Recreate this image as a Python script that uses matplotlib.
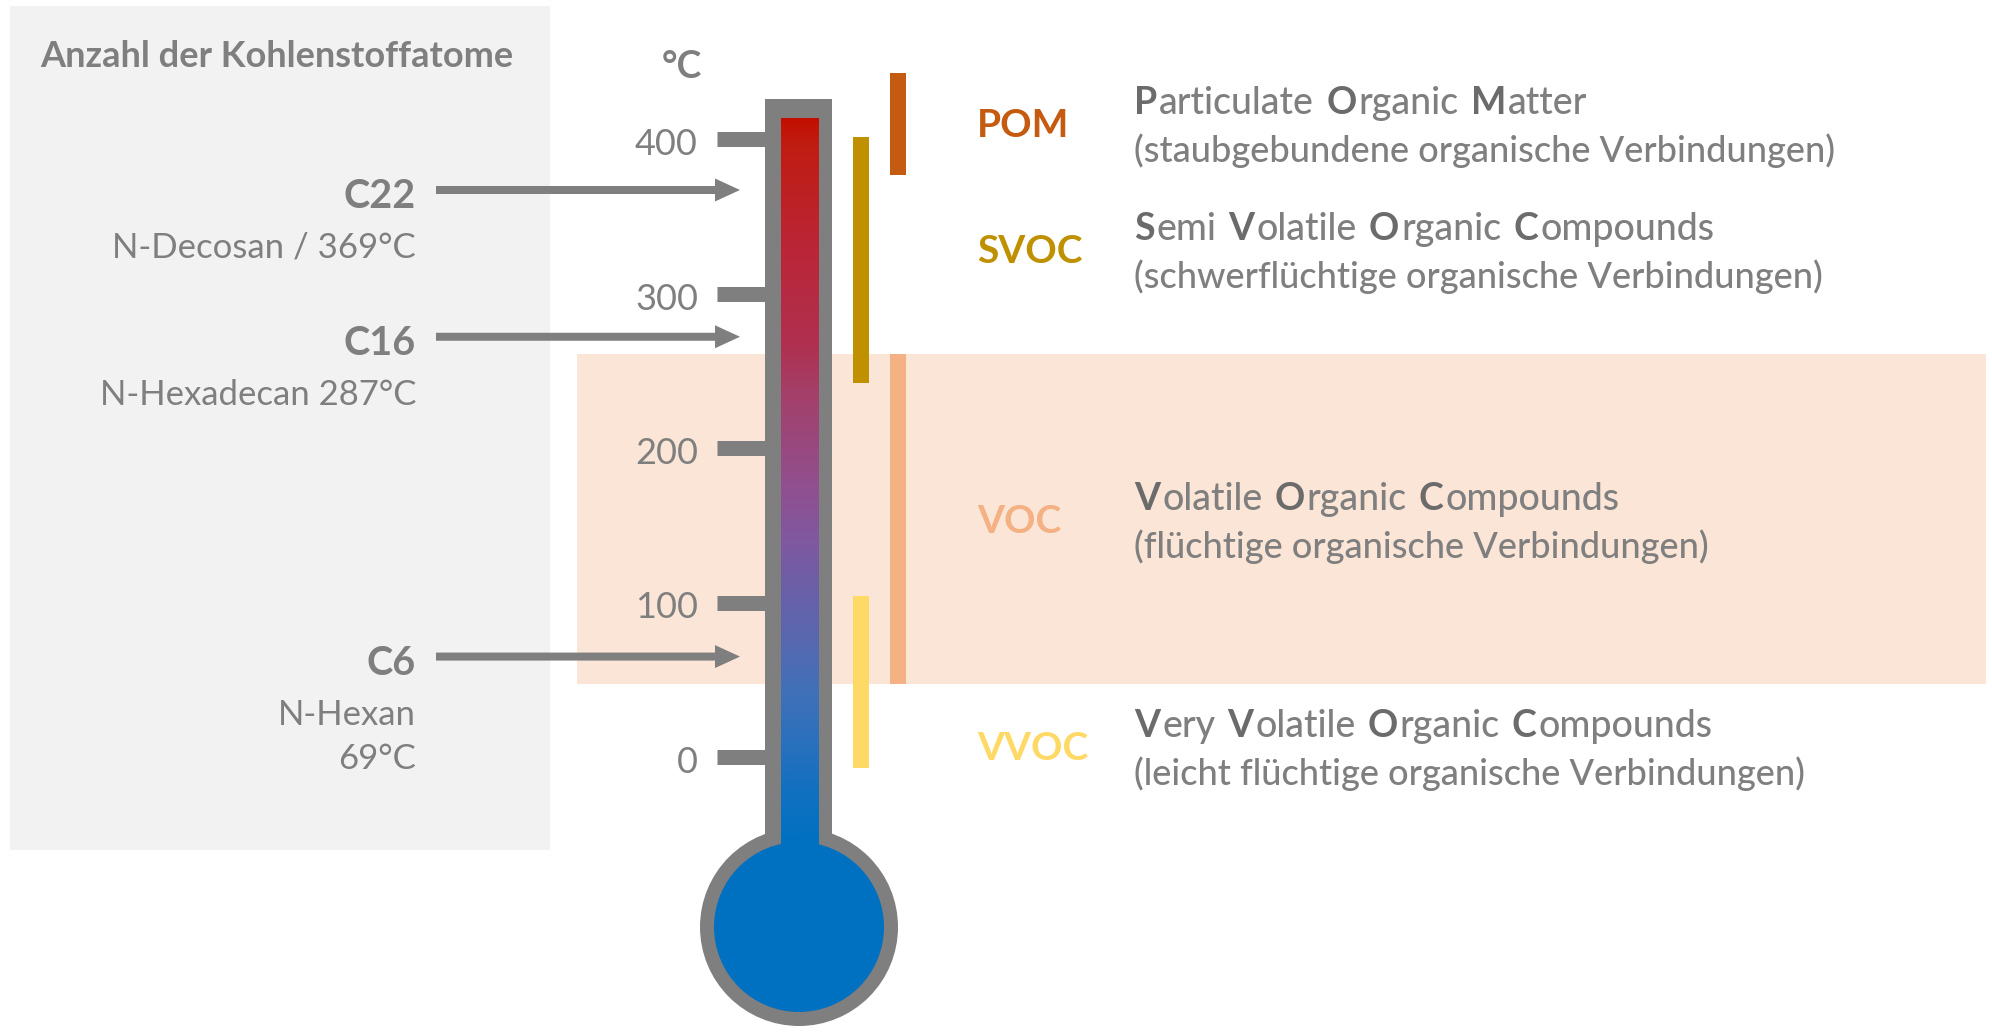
import matplotlib
matplotlib.use("Agg")
import matplotlib.pyplot as plt
import numpy as np
from matplotlib.patches import Rectangle, Ellipse
from matplotlib.colors import LinearSegmentedColormap

# --- data ---------------------------------------------------------------
tick_temps = [0, 100, 200, 300, 400]

classes = ["POM", "SVOC", "VOC", "VVOC"]
class_low = [377, 242, 47, -7]      # lower end of range bar (°C)
class_high = [443, 401, 261, 104]   # upper end of range bar (°C)
class_colors = ["#c55a11", "#bf9000", "#f4b183", "#ffd966"]
class_names = [
    "Particulate Organic Matter",
    "Semi Volatile Organic Compounds",
    "Volatile Organic Compounds",
    "Very Volatile Organic Compounds",
]
class_german = [
    "(staubgebundene organische Verbindungen)",
    "(schwerflüchtige organische Verbindungen)",
    "(flüchtige organische Verbindungen)",
    "(leicht flüchtige organische Verbindungen)",
]

compounds = ["C22", "C16", "C6"]
compound_notes = ["N-Decosan / 369°C", "N-Hexadecan 287°C", "N-Hexan\n69°C"]
arrow_temps = [367, 272, 65]

# --- layout (pixel grid of a 1992x1032 picture) -------------------------
W, H = 1992, 1032
Y0_PX = 757          # pixel row of 0 °C
PX_PER_DEG = 1.545   # pixels per °C


def t_of(px):
    # pixel row -> temperature
    return (Y0_PX - px) / PX_PER_DEG


GRAY = "#7f7f7f"
TEXT_GRAY = "#7f7f7f"
BOLD_GRAY = "#6b6b6b"
BLUE = "#0070c0"

plt.rcParams['font.family'] = ['Lato', 'DejaVu Sans']

fig = plt.figure(figsize=(W / 100, H / 100), dpi=100)
ax = fig.add_axes([0, 0, 1, 1])
ax.set_axis_off()

# background panels
ax.add_patch(Rectangle((10, t_of(850)), 540, t_of(6) - t_of(850),
                       color="#f2f2f2", lw=0, zorder=0))
voc = classes.index("VOC")
ax.axhspan(class_low[voc], class_high[voc], xmin=577 / W, xmax=1986 / W,
           color="#fbe5d6", lw=0, zorder=0.5)

# thermometer
ax.add_patch(Rectangle((765, t_of(925)), 67, t_of(99) - t_of(925),
                       color=GRAY, lw=0, zorder=3))
ax.add_patch(Ellipse((799, t_of(927)), 198, 198 / PX_PER_DEG,
                     color=GRAY, lw=0, zorder=3))
tube_cmap = LinearSegmentedColormap.from_list("tube", [
    (0.00, "#c20f00"), (0.03, "#c01c10"), (0.17, "#bb2535"),
    (0.31, "#b03050"), (0.375, "#a43f68"), (0.51, "#905090"),
    (0.58, "#8058a0"), (0.65, "#6a60a8"), (0.72, "#5868b0"),
    (0.785, "#4270b8"), (0.855, "#2c70bc"), (0.92, "#1470c0"),
    (1.00, BLUE)])
grad = np.linspace(0, 1, 256).reshape(-1, 1)
ax.imshow(grad, cmap=tube_cmap, aspect="auto", origin="upper",
          extent=(781, 819, t_of(845), t_of(118)), zorder=4)
ax.add_patch(Ellipse((799, t_of(927)), 170, 170 / PX_PER_DEG,
                     color=BLUE, lw=0, zorder=5))

# scale ticks and labels
ax.hlines(tick_temps, 717, 770, colors=GRAY, lw=15 * 0.72, capstyle="butt",
          zorder=2)
for t in tick_temps:
    ax.text(698, t - 16 / PX_PER_DEG, str(t), ha="right", va="baseline",
            size=26, color=GRAY)
ax.text(682, t_of(78), "°C", ha="center", va="baseline", size=27,
        weight="bold", color=GRAY)
ax.text(40, t_of(67), "Anzahl der Kohlenstoffatome", ha="left",
        va="baseline", size=26, weight="bold", color=GRAY)

# compounds with arrows
for name, note, t in zip(compounds, compound_notes, arrow_temps):
    ax.arrow(436, t, 304, 0, width=8 / PX_PER_DEG,
             head_width=23 / PX_PER_DEG, head_length=25,
             length_includes_head=True, color=GRAY, lw=0, zorder=6)
    base = t - 18 / PX_PER_DEG
    ax.text(416, base, name, ha="right", va="baseline", size=28.5,
            weight="bold", color=GRAY)
    for i, line in enumerate(note.split("\n")):
        ax.text(416, base - (50 + 44 * i) / PX_PER_DEG, line, ha="right",
                va="baseline", size=25, color=GRAY)

# range bars
bar_x = [898, 861, 898, 861]
ax.bar(bar_x, np.subtract(class_high, class_low), bottom=class_low,
       width=16, color=class_colors, zorder=2)

# class labels and descriptions
renderer = fig.canvas.get_renderer()


def draw_mixed(x, y, phrase, size):
    # first letter of every word bold, rest regular
    for word in phrase.split():
        for part, weight, color in ((word[0], "bold", BOLD_GRAY),
                                    (word[1:], "medium", TEXT_GRAY)):
            if not part:
                continue
            txt = ax.text(x, y, part, size=size, weight=weight, color=color,
                          va="baseline", ha="left")
            x += txt.get_window_extent(renderer).width + 2
        x += 10


label_base_px = [137, 263, 533, 760]
for lab, col, name, ger, bpx in zip(classes, class_colors, class_names,
                                    class_german, label_base_px):
    ax.text(977, t_of(bpx), lab, ha="left", va="baseline", size=28,
            weight="bold", color=col)
    draw_mixed(1134, t_of(bpx - 23), name, 27)
    ax.text(1134, t_of(bpx + 25), ger, ha="left", va="baseline",
            size=26, weight="medium", color=TEXT_GRAY)

ax.set_xlim(0, W)
ax.set_ylim(t_of(H), t_of(0))

fig.savefig("out.png", dpi=100, facecolor="white")
